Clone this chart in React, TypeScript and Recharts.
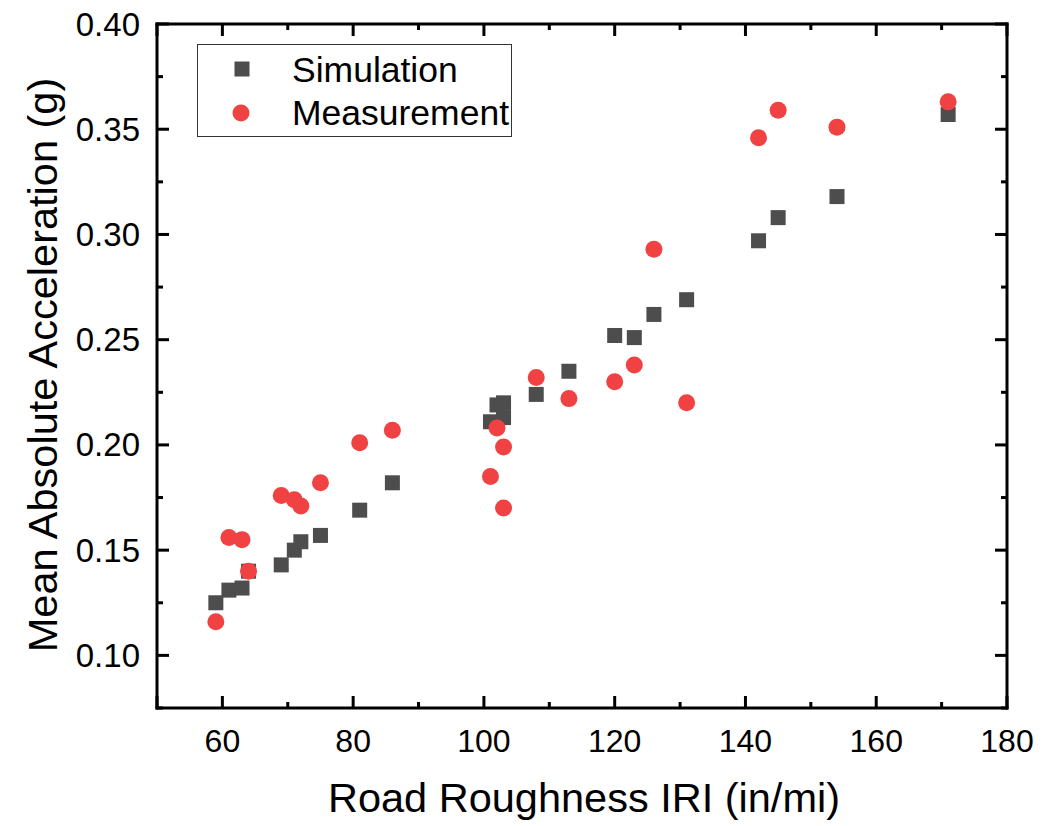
import React from 'react';
import { ScatterChart, Scatter, XAxis, YAxis } from 'recharts';

const iri = [59, 61, 63, 64, 69, 71, 72, 75, 81, 86, 101, 102, 103, 103, 108, 113, 120, 123, 126, 131, 142, 145, 154, 171];
const simulation = [0.125, 0.131, 0.132, 0.140, 0.143, 0.150, 0.154, 0.157, 0.169, 0.182, 0.211, 0.219, 0.220, 0.213, 0.224, 0.235, 0.252, 0.251, 0.262, 0.269, 0.297, 0.308, 0.318, 0.357];
const iriMeas = [59, 61, 63, 64, 69, 71, 72, 75, 81, 86, 101, 102, 103, 103, 108, 113, 120, 123, 126, 131, 142, 145, 154, 171];
const measurement = [0.116, 0.156, 0.155, 0.140, 0.176, 0.174, 0.171, 0.182, 0.201, 0.207, 0.185, 0.208, 0.199, 0.170, 0.232, 0.222, 0.230, 0.238, 0.293, 0.220, 0.346, 0.359, 0.351, 0.363];

const xTicks = [50, 60, 70, 80, 90, 100, 110, 120, 130, 140, 150, 160, 170, 180];
const xMajorLabels = [60, 80, 100, 120, 140, 160, 180];
const yTicks = [0.075, 0.1, 0.125, 0.15, 0.175, 0.2, 0.225, 0.25, 0.275, 0.3, 0.325, 0.35, 0.375, 0.4];
const yMajorLabels = [0.1, 0.15, 0.2, 0.25, 0.3, 0.35, 0.4];

const simData = iri.map((x, i) => ({ x, y: simulation[i] }));
const measData = iriMeas.map((x, i) => ({ x, y: measurement[i] }));

const FONT = 'Liberation Sans, Arial, Helvetica, sans-serif';
const SIM_COLOR = '#4d4d4d';
const MEAS_COLOR = '#f04242';
const MAJOR = 12;
const MINOR = 6;
const LW = 3;

const isMajorX = (v: number) => xMajorLabels.some((m) => Math.abs(m - v) < 1e-9) || v === 50;
const isMajorY = (v: number) => yMajorLabels.some((m) => Math.abs(m - v) < 1e-9);

const BottomTick = (props: any) => {
  const { x, y, payload } = props;
  const v = payload.value;
  const major = isMajorX(v);
  const labeled = xMajorLabels.some((m) => Math.abs(m - v) < 1e-9);
  return (
    <g>
      <rect x={x - LW / 2} y={y - (major ? MAJOR : MINOR)} width={LW} height={major ? MAJOR : MINOR} fill="#000" />
      {labeled && (
        <text x={x} y={y + 44} textAnchor="middle" fontSize={32} fontFamily={FONT} fill="#000">
          {v}
        </text>
      )}
    </g>
  );
};

const TopTick = (props: any) => {
  const { x, y, payload } = props;
  const major = isMajorX(payload.value);
  return <rect x={x - LW / 2} y={y} width={LW} height={major ? MAJOR : MINOR} fill="#000" />;
};

const LeftTick = (props: any) => {
  const { x, y, payload } = props;
  const v = payload.value;
  const major = isMajorY(v);
  return (
    <g>
      <rect x={x} y={y - LW / 2} width={major ? MAJOR : MINOR} height={LW} fill="#000" />
      {major && (
        <text x={x - 17} y={y + 11.5} textAnchor="end" fontSize={33} fontFamily={FONT} fill="#000">
          {v.toFixed(2)}
        </text>
      )}
    </g>
  );
};

const RightTick = (props: any) => {
  const { x, y, payload } = props;
  const major = isMajorY(payload.value);
  const len = major ? MAJOR : MINOR;
  return <rect x={x - len} y={y - LW / 2} width={len} height={LW} fill="#000" />;
};

const XTitle = (props: any) => {
  const vb = props.viewBox || { x: 157, width: 850 };
  return (
    <text x={vb.x + vb.width / 2 + 2} y={812} textAnchor="middle" fontSize={41.5} fontFamily={FONT} fill="#000">
      Road Roughness IRI (in/mi)
    </text>
  );
};

const YTitle = () => (
  <text
    x={57}
    y={365}
    transform="rotate(-90 57 365)"
    textAnchor="middle"
    fontSize={41.5}
    fontFamily={FONT}
    fill="#000"
  >
    Mean Absolute Acceleration (g)
  </text>
);

const SquareShape = (props: any) => {
  const { cx, cy } = props;
  return <rect x={cx - 7.5} y={cy - 7.5} width={15} height={15} fill={SIM_COLOR} />;
};

const CircleShape = (props: any) => {
  const { cx, cy } = props;
  return <circle cx={cx} cy={cy} r={8.5} fill={MEAS_COLOR} />;
};

const LegendBox = () => (
  <div
    style={{
      position: 'absolute',
      left: 197,
      top: 44,
      width: 315,
      height: 93,
      border: '1px solid #333',
      boxSizing: 'border-box',
      fontFamily: FONT,
      background: 'transparent',
    }}
  >
    <svg width={315} height={93} style={{ position: 'absolute', left: -1, top: -1 }}>
      <rect x={45 - 7.5} y={25 - 7.5} width={15} height={15} fill={SIM_COLOR} />
      <circle cx={44} cy={69} r={8.5} fill={MEAS_COLOR} />
      <text x={95} y={38} fontSize={35.5} fontFamily={FONT} fill="#000">Simulation</text>
      <text x={95} y={81} fontSize={35.5} fontFamily={FONT} fill="#000">Measurement</text>
    </svg>
  </div>
);

const axisLineStyle = { stroke: '#000', strokeWidth: LW, strokeLinecap: 'square' as const };

export default function App() {
  return (
    <div style={{ position: 'absolute', left: 0, top: 0, width: 1064, height: 826, background: '#fff' }}>
      <ScatterChart width={1064} height={826} margin={{ top: 23, right: 56, bottom: 0, left: 0 }}>
        <XAxis
          xAxisId="bottom"
          type="number"
          dataKey="x"
          domain={[50, 180]}
          ticks={xTicks}
          interval={0}
          allowDataOverflow
          height={118}
          tickSize={0}
          tickMargin={0}
          tickLine={false}
          stroke="#000"
          axisLine={axisLineStyle}
          tick={<BottomTick />}
          label={<XTitle />}
        />
        <XAxis
          xAxisId="top"
          orientation="top"
          type="number"
          dataKey="x"
          domain={[50, 180]}
          ticks={xTicks}
          interval={0}
          allowDataOverflow
          height={1}
          tickSize={0}
          tickMargin={0}
          tickLine={false}
          stroke="#000"
          axisLine={axisLineStyle}
          tick={<TopTick />}
        />
        <YAxis
          yAxisId="left"
          type="number"
          dataKey="y"
          domain={[0.075, 0.4]}
          ticks={yTicks}
          interval={0}
          allowDataOverflow
          width={157}
          tickSize={0}
          tickMargin={0}
          tickLine={false}
          stroke="#000"
          axisLine={axisLineStyle}
          tick={<LeftTick />}
          label={<YTitle />}
        />
        <YAxis
          yAxisId="right"
          orientation="right"
          type="number"
          dataKey="y"
          domain={[0.075, 0.4]}
          ticks={yTicks}
          interval={0}
          allowDataOverflow
          width={1}
          tickSize={0}
          tickMargin={0}
          tickLine={false}
          stroke="#000"
          axisLine={axisLineStyle}
          tick={<RightTick />}
        />
        <Scatter
          name="Simulation"
          data={simData}
          xAxisId="bottom"
          yAxisId="left"
          shape={<SquareShape />}
          isAnimationActive={false}
        />
        <Scatter
          name="Measurement"
          data={measData}
          xAxisId="bottom"
          yAxisId="left"
          shape={<CircleShape />}
          isAnimationActive={false}
        />
      </ScatterChart>
      <LegendBox />
    </div>
  );
}
